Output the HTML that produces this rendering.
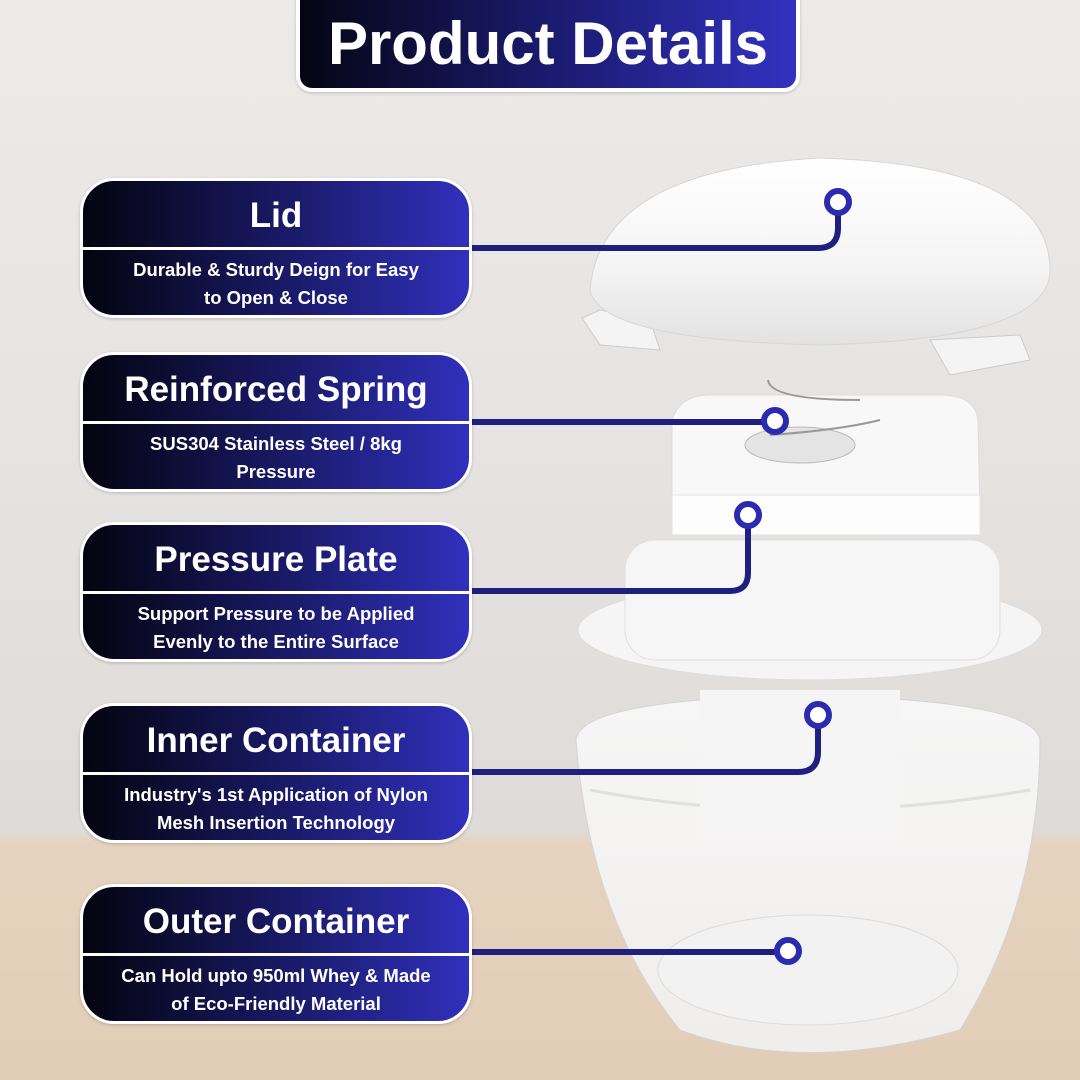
<!DOCTYPE html>
<html><head><meta charset="utf-8"><style>
html,body{margin:0;padding:0;}
body{width:1080px;height:1080px;position:relative;overflow:hidden;font-family:"Liberation Sans",sans-serif;
background:linear-gradient(180deg,#ecebe9 0%,#e6e4e2 40%,#dedbd8 77%,#e6d3bf 78%,#e2cdb7 100%);}
.title{position:absolute;left:296px;top:-20px;width:496px;height:104px;border:4px solid #fff;border-radius:16px;
background:linear-gradient(90deg,#050514 0%,#1a1a6e 50%,#3232c0 100%);color:#fff;font-weight:bold;font-size:60px;
text-align:center;line-height:120px;box-shadow:0 1px 3px rgba(0,0,0,.2)}
.box{position:absolute;left:80px;width:386px;height:134px;border:3px solid #fff;border-radius:34px;overflow:hidden;
background:linear-gradient(90deg,#04040f 0%,#16165a 45%,#3030bc 100%);color:#fff;text-align:center;box-shadow:0 1px 3px rgba(0,0,0,.2)}
.box h2{margin:0;height:66px;line-height:70px;font-size:35px;font-family:"Liberation Sans",sans-serif;font-weight:bold;border-bottom:3px solid #fff}
.box p{margin:0;padding-top:6px;font-size:18.5px;line-height:28px;font-family:"Liberation Sans",sans-serif;font-weight:bold}
svg{position:absolute;left:0;top:0}
</style></head><body>
<svg width="1080" height="1080">
<defs>
<linearGradient id="lid" x1="0" y1="0" x2="0" y2="1"><stop offset="0" stop-color="#ffffff"/><stop offset="0.6" stop-color="#f4f4f4"/><stop offset="1" stop-color="#e2e2e2"/></linearGradient>
<linearGradient id="bowl" x1="0" y1="0" x2="0" y2="1"><stop offset="0" stop-color="#f6f6f6"/><stop offset="1" stop-color="#f0eeec"/></linearGradient>
</defs>
<!-- outer bowl -->
<path d="M576 740 Q580 700 800 695 Q1035 700 1040 740 Q1040 900 960 1030 Q800 1075 680 1030 Q590 920 576 740Z" fill="url(#bowl)" stroke="#d4d4d4"/>
<path d="M590 790 Q800 830 1030 790" stroke="#e0e0e0" stroke-width="3" fill="none"/>
<ellipse cx="808" cy="970" rx="150" ry="55" fill="#f2f2f2" stroke="#dcdcdc"/>
<!-- inner container flange -->
<ellipse cx="810" cy="630" rx="232" ry="50" fill="#f5f5f5" stroke="#dddddd"/>
<rect x="625" y="540" width="375" height="120" rx="30" fill="#f6f6f6" stroke="#e0e0e0"/>
<rect x="700" y="690" width="200" height="150" fill="#f5f5f5"/>
<!-- pressure plate -->
<path d="M672 420 Q680 395 710 395 L940 395 Q975 395 978 420 L980 520 L672 520Z" fill="#f8f8f8" stroke="#dddddd"/>
<rect x="672" y="495" width="308" height="40" fill="#fdfdfd" stroke="#e2e2e2"/>
<ellipse cx="800" cy="445" rx="55" ry="18" fill="#e4e4e4" stroke="#bbb"/>
<path d="M768 380 Q770 400 860 400 M770 435 Q840 430 880 420" stroke="#999" stroke-width="2" fill="none"/>
<!-- lid -->
<path d="M582 318 L600 310 L650 320 L660 350 L600 345Z" fill="#f4f4f4" stroke="#ccc"/>
<path d="M930 340 L1020 335 L1030 360 L950 375Z" fill="#f4f4f4" stroke="#ccc"/>
<path d="M590 290 Q600 170 820 158 Q1050 165 1050 270 Q1050 340 820 345 Q600 340 590 290Z" fill="url(#lid)" stroke="#d6d6d6"/>
<!-- connectors -->
<g fill="none" stroke-width="6" stroke-linecap="round">
<path d="M472 248 L818 248 Q838 248 838 228 L838 212" stroke="#1f1f80"/>
<path d="M472 422 L766 422" stroke="#1f1f80"/>
<path d="M472 591 L730 591 Q748 591 748 573 L748 525" stroke="#1f1f80"/>
<path d="M472 772 L798 772 Q818 772 818 752 L818 725" stroke="#1f1f80"/>
<path d="M472 952 L778 952" stroke="#1f1f80"/>
</g>
<g fill="#fff" stroke="#2b2bb0" stroke-width="6">
<circle cx="838" cy="202" r="11"/><circle cx="775" cy="421" r="11"/><circle cx="748" cy="515" r="11"/>
<circle cx="818" cy="715" r="11"/><circle cx="788" cy="951" r="11"/>
</g>
</svg>
<div class="title">Product Details</div>
<div class="box" style="top:178px"><h2>Lid</h2><p>Durable &amp; Sturdy Deign for Easy<br>to Open &amp; Close</p></div>
<div class="box" style="top:352px"><h2>Reinforced Spring</h2><p>SUS304 Stainless Steel / 8kg<br>Pressure</p></div>
<div class="box" style="top:522px"><h2>Pressure Plate</h2><p>Support Pressure to be Applied<br>Evenly to the Entire Surface</p></div>
<div class="box" style="top:703px"><h2>Inner Container</h2><p>Industry's 1st Application of Nylon<br>Mesh Insertion Technology</p></div>
<div class="box" style="top:884px"><h2>Outer Container</h2><p>Can Hold upto 950ml Whey &amp; Made<br>of Eco-Friendly Material</p></div>
</body></html>
